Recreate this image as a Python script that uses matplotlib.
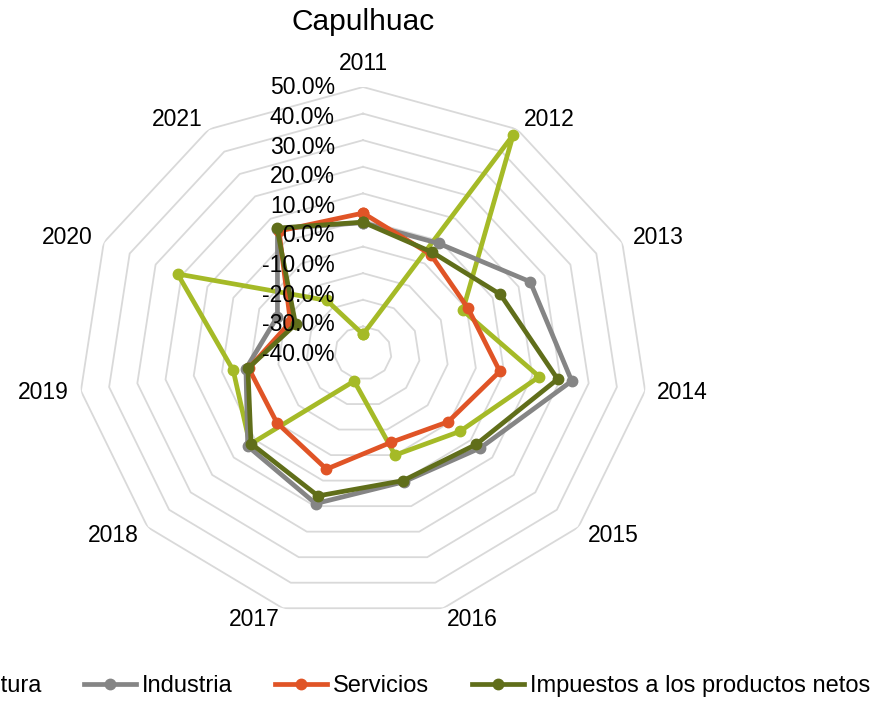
import numpy as np
import matplotlib
matplotlib.use("Agg")
import matplotlib.pyplot as plt

plt.rcParams['font.family'] = ['Liberation Sans', 'DejaVu Sans']

years = ['2011', '2012', '2013', '2014', '2015', '2016',
         '2017', '2018', '2019', '2020', '2021']
agricultura = [-43.0, 47.5, -11.5, 12.5, -5.0, -10.0, -39.0, 2.5, -4.0, 21.5, -26.5]
industria = [-1.0, -1.0, 14.5, 24.0, 4.5, 0.5, 9.0, 3.5, -8.5, -17.0, 5.5]
servicios = [2.6, -6.0, -9.5, -1.5, -10.5, -15.0, -4.5, -10.0, -9.5, -22.0, 4.5]
impuestos = [-0.8, -5.0, 3.0, 19.0, 2.5, 0.0, 6.0, 2.0, -9.2, -24.0, 5.8]

series_names = ['Agricultura', 'Industria', 'Servicios',
                'Impuestos a los productos netos']
series_colors = ['#A5BA27', '#858585', '#E05426', '#606E1A']
ring_values = [-40, -30, -20, -10, 0, 10, 20, 30, 40, 50]
tick_values = [50, 40, 30, 20, 10, 0, -10, -20, -30, -40]

W, H = 878, 702
fig = plt.figure(figsize=(W / 100, H / 100), dpi=100)

# plot box in pixels: centre (363, 353), half sizes 285 x 266
cx, cy, rx, ry = 363, 353, 285, 266
ax = fig.add_axes([(cx - rx) / W, (H - cy - ry) / H, 2 * rx / W, 2 * ry / H],
                  projection='polar')
ax.set_aspect('auto')
ax.set_theta_zero_location('N')
ax.set_theta_direction(-1)
ax.set_ylim(-50, 50)
ax.grid(False)
ax.spines['polar'].set_visible(False)
ax.set_xticks([])
ax.set_yticks([])

n = len(years)
theta = np.arange(n) * 2 * np.pi / n
theta_c = np.append(theta, theta[0])

# polygon gridlines
for v in ring_values:
    ax.plot(theta_c, [v] * (n + 1), color='#D9D9D9', lw=1.3, zorder=1)

all_series = [agricultura, industria, servicios, impuestos]
for vals, name, col in zip(all_series, series_names, series_colors):
    vals_c = list(vals) + [vals[0]]
    ax.plot(theta_c, vals_c, color=col, lw=3.4, marker='o', markersize=7.5,
            label=name, zorder=3, solid_joinstyle='round')

# category labels
for t, lab in zip(theta, years):
    s, c = np.sin(t), np.cos(t)
    ha = 'left' if s > 0.1 else ('right' if s < -0.1 else 'center')
    va = 'bottom' if c > 0.95 else 'center'
    ax.annotate(lab, xy=(t, 50), xytext=(8.6 * s, 8.6 * c),
                textcoords='offset points', ha=ha, va=va, fontsize=16.5,
                annotation_clip=False)

# radial tick labels along the top spoke (spread like the original)
for v in tick_values:
    y_px = 88 + (50 - v) * 2.96
    fig.text(335 / W, 1 - y_px / H, f"{v:.1f}%", ha='right', va='center',
             fontsize=16.5, zorder=5)

fig.text(cx / W, 1 - 22 / H, 'Capulhuac', ha='center', va='center', fontsize=21.5)

fig.legend(loc='center right', bbox_to_anchor=(870 / W, 1 - 686 / H), ncol=4,
           frameon=False, fontsize=17, handlelength=2.2, handletextpad=0.25,
           columnspacing=1.8, borderaxespad=0, borderpad=0)

fig.savefig('out.png', dpi=100)
